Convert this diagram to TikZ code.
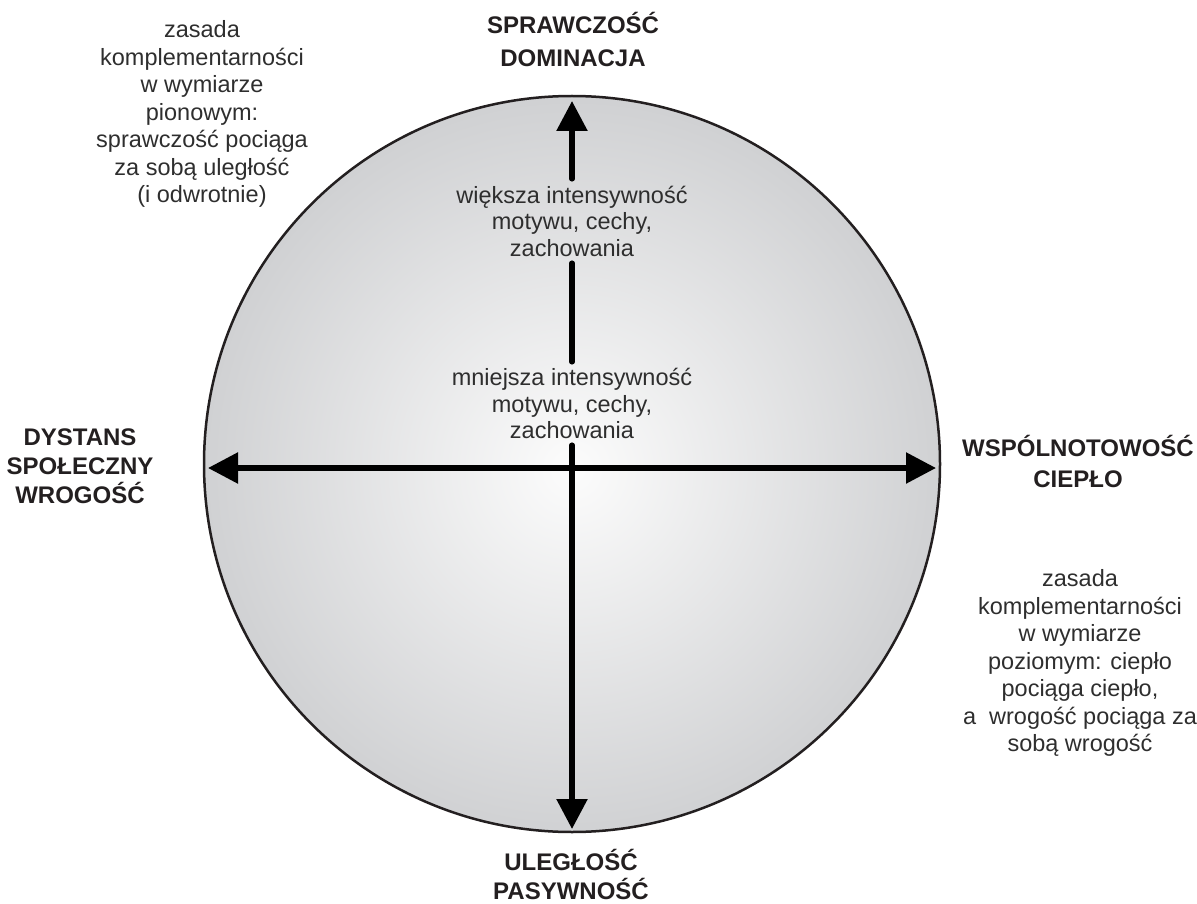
\documentclass[tikz,border=0pt]{standalone}
\usepackage{fontspec}
\setmainfont{Liberation Sans}
\usetikzlibrary{arrows.meta}
\definecolor{ink}{HTML}{231F20}
\definecolor{txt}{HTML}{2E2E2E}
\definecolor{edgegray}{HTML}{D0D1D3}
\definecolor{centergray}{HTML}{FCFCFC}
\pgfdeclareradialshading{discshade}{\pgfpoint{0bp}{-0.4bp}}{color(0bp)=(centergray); color(25bp)=(edgegray); color(50bp)=(edgegray)}
\tikzset{
  body/.style={font=\fontsize{23.5}{27.5}\selectfont, text=txt, align=center, inner sep=0pt},
  pole/.style={font=\bfseries\fontsize{24}{#1}\selectfont, text=ink, align=center, inner sep=0pt},
  midtext/.style={font=\fontsize{23.5}{26.5}\selectfont, text=txt, align=center, inner sep=0pt, minimum height=#1},
  axis/.style={line width=5.5pt, draw=black, line cap=round},
  headtip/.style={-{Triangle[length=30pt,width=30pt]}},
  bothtips/.style={{Triangle[length=30pt,width=30pt]}-{Triangle[length=30pt,width=30pt]}},
}
\begin{document}
\begin{tikzpicture}[x=1pt,y=-1pt]
\useasboundingbox (0,0) rectangle (1197,904);
% disc
\node[circle, minimum size=736pt, inner sep=0pt, shading=discshade, draw=ink, line width=2.5pt] (disc) at (572,464) {};
% tips
\coordinate (nTip) at (572,101);
\coordinate (sTip) at (572,829);
\coordinate (wTip) at (208,468);
\coordinate (eTip) at (936,468);
% middle texts
\node[midtext=84pt] (hi) at (572,221) {większa intensywność\\motywu, cechy,\\zachowania};
\node[midtext=83pt] (lo) at (572,403.5) {mniejsza intensywność\\motywu, cechy,\\zachowania};
% axes
\draw[axis, bothtips] (wTip) -- (eTip);
\draw[axis, headtip] (hi.north) -- (nTip);
\draw[axis] (hi.south) -- (lo.north);
\draw[axis, headtip] (lo.south) -- (sTip);
% pole labels
\node[pole=33pt] (north) at (573,39) {SPRAWCZOŚĆ\\DOMINACJA};
\node[pole=29pt] (west) at (80,466) {DYSTANS\\SPOŁECZNY\\WROGOŚĆ};
\node[pole=31pt] (east) at (1078,461) {WSPÓLNOTOWOŚĆ\\CIEPŁO};
\node[pole=29pt] (south) at (571,874) {ULEGŁOŚĆ\\PASYWNOŚĆ};
% notes
\node[body] (noteTL) at (202,114) {zasada\\komplementarności\\w wymiarze\\pionowym:\\sprawczość pociąga\\za sobą uległość\\(i odwrotnie)};
\node[body] (noteR) at (1080,663) {zasada\\komplementarności\\w wymiarze\\poziomym: ciepło\\pociąga ciepło,\\a\ \ wrogość pociąga za\\sobą wrogość};
\end{tikzpicture}
\end{document}
